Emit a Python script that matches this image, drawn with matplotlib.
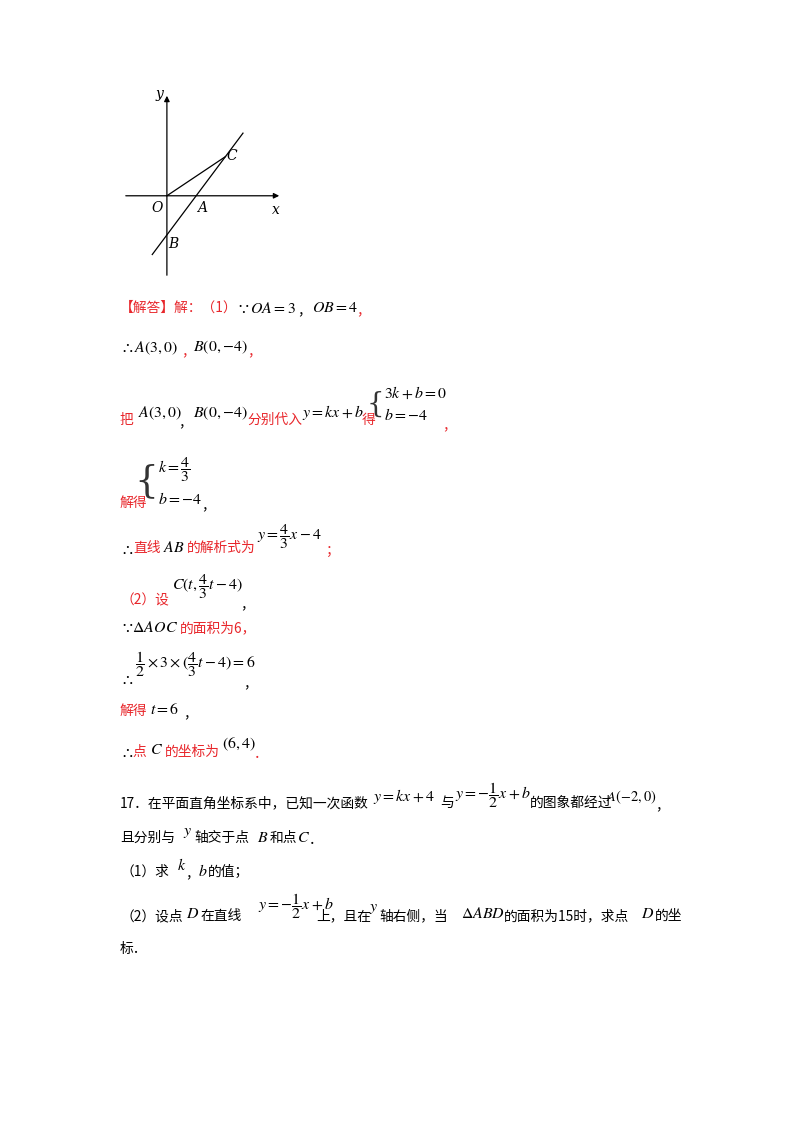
import matplotlib.pyplot as plt

plt.rcParams['font.family'] = ['Noto Sans CJK SC', 'DejaVu Sans']
plt.rcParams['mathtext.fontset'] = 'stix'

RED = '#e8262b'
FS = 9.9

# diagram data (units): A on x axis, B on y axis, C = (6, 4)
A = (3, 0)
B = (0, -4)
C = (6, 4)
line_x = [-1.5, 7.8]
slope, intercept = 4 / 3, -4

fig = plt.figure(figsize=(8, 11.32), dpi=100)
page = fig.add_axes([0, 0, 1, 1])
page.set_xlim(0, 800)
page.set_ylim(1132, 0)
page.axis('off')

# small coordinate sketch, placed in pixel box x 123..282, y 93..278
dx0, dx1, dy0, dy1 = 123, 282, 93, 278
ax = fig.add_axes([dx0 / 800, 1 - dy1 / 1132, (dx1 - dx0) / 800, (dy1 - dy0) / 1132])
ax.set_xlim(-4.5, 11.8)
ax.set_ylim(-8.4, 10.5)
ax.axis('off')
ax.annotate('', xy=(11.8, 0), xytext=(-4.5, 0),
            arrowprops=dict(arrowstyle='-|>', lw=0.9, color='black', mutation_scale=8))
ax.annotate('', xy=(0, 10.5), xytext=(0, -8.4),
            arrowprops=dict(arrowstyle='-|>', lw=0.9, color='black', mutation_scale=8))
ax.plot(line_x, [slope * x + intercept for x in line_x], color='black', lw=0.9)
ax.plot([0, C[0]], [0, C[1]], color='black', lw=0.9)
lab = dict(fontsize=10, family='serif', style='italic')
ax.text(-0.4, -0.5, 'O', ha='right', va='top', **lab)
ax.text(A[0] + 0.1, -0.5, 'A', ha='left', va='top', **lab)
ax.text(B[0] + 0.1, B[1] - 0.2, 'B', ha='left', va='top', **lab)
ax.text(C[0] + 0.1, C[1] + 0.1, 'C', ha='left', va='center', **lab)
ax.text(-0.4, 10.4, 'y', ha='right', va='center', **lab)
ax.text(11.2, -0.7, 'x', ha='center', va='top', **lab)


def t(x, y, s, color='black', size=FS, **kw):
    page.text(x, y, s, color=color, fontsize=size, va='center', ha='left', **kw)


def m(x, y, s, size=FS + 1.5):
    page.text(x, y, s, color='black', fontsize=size, va='center', ha='left')


def brace(x, y, size=24):
    page.text(x, y, '{', fontsize=size, va='center', ha='right', family='DejaVu Serif',
              fontweight='ultralight', color='#333333')


# solution
t(120, 308, '【解答】解：（1）', RED)
m(236, 308, r'$\because OA=3$'); t(297, 310, '，')
m(312, 308, r'$OB=4$'); t(356, 310, '，', RED)

m(120, 348, r'$\therefore A(3,0)$'); t(181, 351, '，', RED)
m(193, 347, r'$B(0,{-}4)$'); t(247, 351, '，', RED)

t(120, 420, '把', RED)
m(138, 413, r'$A(3,0)$'); t(178, 422, '，')
m(193, 413, r'$B(0,{-}4)$')
t(247, 420, '分别代入', RED)
m(302, 413, r'$y=kx+b$')
t(362, 420, '得', RED)
brace(384, 404, 20)
m(384, 393, r'$3k+b=0$')
m(384, 416, r'$b=-4$')
t(442, 425, '，', RED)

brace(158, 481, 27)
m(158, 470, r'$k=\dfrac{4}{3}$')
m(158, 499, r'$b=-4$')
t(120, 503, '解得', RED)
t(201, 505, '，')

m(120, 549, r'$\therefore$')
t(133, 548, '直线', RED)
m(163, 548, r'$AB$')
t(187, 548, '的解析式为', RED)
m(257, 537, r'$y=\dfrac{4}{3}x-4$')
t(325, 551, '；', RED)

t(120, 600, '（2）设', RED)
m(172, 587, r'$C(t,\dfrac{4}{3}t-4)$')
t(240, 604, '，')

m(120, 627, r'$\because\!\Delta AOC$')
t(180, 628, '的面积为6，', RED)

m(135, 664, r'$\dfrac{1}{2}\times 3\times(\dfrac{4}{3}t-4)=6$')
m(120, 679, r'$\therefore$')
t(243, 683, '，')

t(120, 711, '解得', RED)
m(150, 709, r'$t=6$')
t(183, 713, '，')

m(120, 752, r'$\therefore$')
t(132, 752, '点', RED)
m(150, 749, r'$C$')
t(165, 752, '的坐标为', RED)
m(222, 744, r'$(6,4)$')
t(254, 754, '．', RED)

# question 17
t(120, 803, '17．在平面直角坐标系中，已知一次函数')
m(373, 796, r'$y=kx+4$')
t(440, 803, '与')
m(455, 795, r'$y=-\dfrac{1}{2}x+b$')
t(530, 803, '的图象都经过')
m(606, 797, r'$A({-}2,0)$', FS + 0.5)
t(655, 805, '，')

t(120, 838, '且分别与')
m(183, 832, r'$y$')
t(194, 838, '轴交于点')
m(257, 837, r'$B$')
t(270, 838, '和点')
m(297, 837, r'$C$')
t(309, 840, '．')

t(120, 872, '（1）求')
m(177, 866, r'$k$')
t(185, 873, '，')
m(198, 871, r'$b$')
t(208, 872, '的值；')

t(120, 916, '（2）设点')
m(186, 913, r'$D$')
t(200, 916, '在直线')
m(258, 906, r'$y=-\dfrac{1}{2}x+b$')
t(316, 916, '上，且在')
m(369, 907, r'$y$')
t(379, 916, '轴右侧，当')
m(461, 914, r'$\Delta ABD$')
t(504, 916, '的面积为15时，求点')
m(641, 914, r'$D$')
t(655, 916, '的坐')
t(120, 949, '标．')

fig.savefig('out.png', dpi=100)
